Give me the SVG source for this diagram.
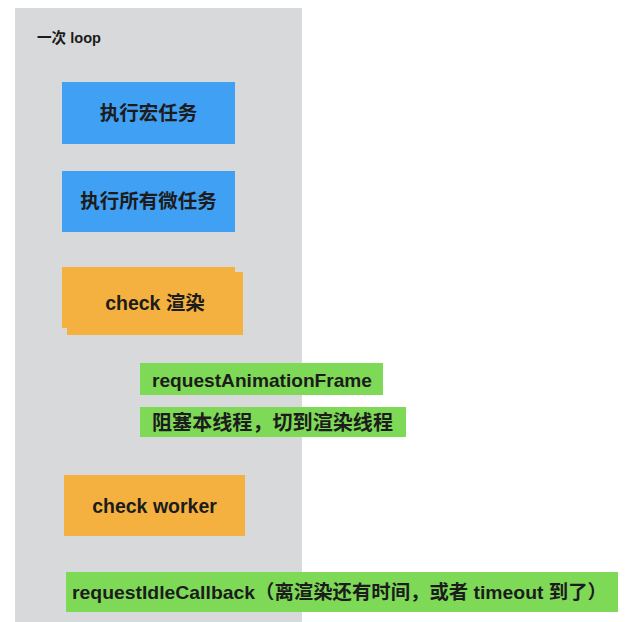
<svg xmlns="http://www.w3.org/2000/svg" width="644" height="622" viewBox="0 0 644 622">
<style>
.t{font-family:"Liberation Sans","Noto Sans CJK SC",sans-serif;font-weight:bold;fill:#1c1c1c}
.blue{fill:#3fa0f4}
.orange{fill:#f4b13f}
.green{fill:#7ed957}
</style>
<rect x="0" y="0" width="644" height="622" fill="#ffffff"/>
<g id="loop">
<rect x="15" y="8" width="287" height="614" fill="#d8d9db"/>
<text class="t" x="37" y="43" font-size="15" textLength="64" lengthAdjust="spacingAndGlyphs">一次 loop</text>
</g>
<g id="macro">
<rect class="blue" x="62" y="82" width="173" height="62"/>
<text class="t" x="148.5" y="120" font-size="19.5" text-anchor="middle">执行宏任务</text>
</g>
<g id="micro">
<rect class="blue" x="62" y="171" width="173" height="61"/>
<text class="t" x="148.5" y="208" font-size="19.5" text-anchor="middle">执行所有微任务</text>
</g>
<g id="render">
<rect class="orange" x="67" y="272" width="176" height="63"/>
<rect class="orange" x="62" y="267" width="173" height="61"/>
<text class="t" x="155" y="310" font-size="19.5" text-anchor="middle">check 渲染</text>
</g>
<g id="raf">
<rect class="green" x="140" y="363" width="243" height="32"/>
<text class="t" x="152" y="387" font-size="18.5" textLength="220" lengthAdjust="spacingAndGlyphs">requestAnimationFrame</text>
</g>
<g id="block">
<rect class="green" x="140" y="407" width="266" height="30"/>
<text class="t" x="152" y="430" font-size="20" textLength="241" lengthAdjust="spacingAndGlyphs">阻塞本线程，切到渲染线程</text>
</g>
<g id="worker">
<rect class="orange" x="64" y="475" width="181" height="61"/>
<text class="t" x="154.5" y="513" font-size="19.5" text-anchor="middle">check worker</text>
</g>
<g id="ric">
<rect class="green" x="66" y="572" width="552" height="40"/>
<text class="t" x="72" y="599" font-size="19" textLength="535" lengthAdjust="spacingAndGlyphs">requestIdleCallback（离渲染还有时间，或者 timeout 到了）</text>
</g>
<g id="connectors"/>
</svg>
